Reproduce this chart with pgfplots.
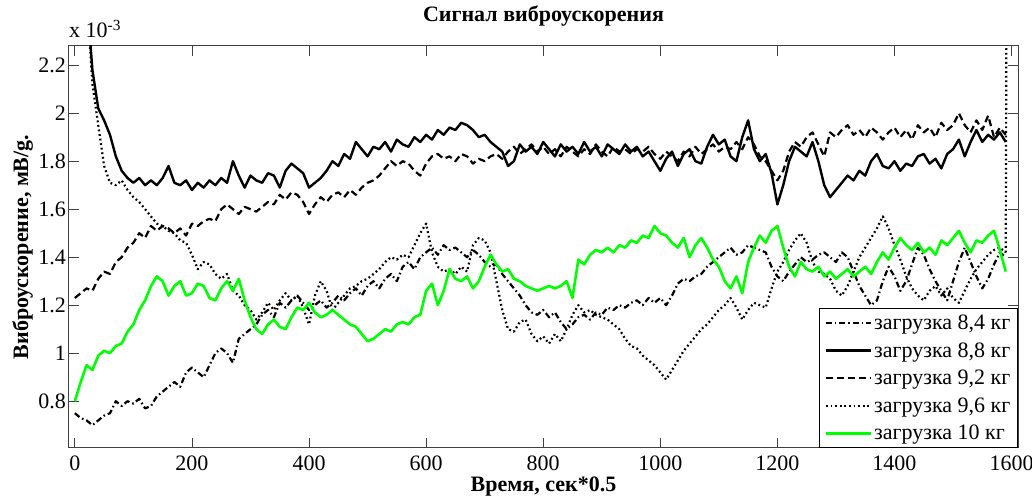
\documentclass[border=0pt]{standalone}
\usepackage{fontspec}
\setmainfont{Liberation Serif}
\usepackage{pgfplots}
\pgfplotsset{compat=1.18}
\usepackage{pgfplotstable}
\pgfplotstableread{
x a b c d e
0 0.75 3.00 1.23 3.00 0.80
10 0.73 2.80 1.25 2.80 0.88
20 0.72 2.50 1.27 2.50 0.95
30 0.70 2.18 1.26 2.12 0.93
40 0.72 2.02 1.31 1.95 0.99
50 0.74 1.97 1.34 1.78 1.01
60 0.75 1.91 1.33 1.71 1.00
70 0.80 1.82 1.38 1.70 1.03
80 0.78 1.76 1.40 1.72 1.04
90 0.80 1.73 1.44 1.68 1.09
100 0.79 1.71 1.46 1.65 1.12
110 0.81 1.73 1.50 1.63 1.18
120 0.77 1.70 1.48 1.60 1.22
130 0.78 1.72 1.53 1.57 1.28
140 0.82 1.70 1.51 1.54 1.32
150 0.84 1.73 1.53 1.53 1.30
160 0.86 1.78 1.52 1.51 1.24
170 0.88 1.71 1.50 1.50 1.28
180 0.86 1.70 1.52 1.47 1.30
190 0.92 1.72 1.49 1.46 1.24
200 0.94 1.68 1.54 1.41 1.25
210 0.92 1.71 1.53 1.35 1.29
220 0.90 1.69 1.55 1.38 1.28
230 0.95 1.72 1.56 1.37 1.23
240 1.00 1.70 1.55 1.33 1.22
250 1.02 1.73 1.60 1.31 1.27
260 1.00 1.71 1.62 1.33 1.30
270 0.96 1.80 1.60 1.26 1.26
280 1.06 1.74 1.58 1.24 1.31
290 1.08 1.69 1.61 1.20 1.22
300 1.10 1.74 1.60 1.18 1.15
310 1.12 1.72 1.59 1.14 1.10
320 1.16 1.71 1.61 1.17 1.08
330 1.18 1.75 1.63 1.21 1.12
340 1.15 1.74 1.62 1.18 1.14
350 1.21 1.69 1.66 1.22 1.11
360 1.19 1.76 1.64 1.25 1.10
370 1.22 1.79 1.67 1.22 1.15
380 1.24 1.77 1.66 1.24 1.19
390 1.21 1.75 1.63 1.19 1.18
400 1.18 1.69 1.58 1.12 1.21
410 1.20 1.71 1.62 1.24 1.17
420 1.22 1.73 1.65 1.30 1.15
430 1.19 1.76 1.63 1.26 1.16
440 1.21 1.80 1.66 1.18 1.18
450 1.24 1.78 1.67 1.21 1.16
460 1.22 1.83 1.65 1.24 1.14
470 1.25 1.81 1.68 1.27 1.12
480 1.27 1.88 1.66 1.28 1.11
490 1.24 1.85 1.69 1.30 1.08
500 1.28 1.82 1.71 1.31 1.05
510 1.30 1.86 1.72 1.33 1.06
520 1.27 1.85 1.74 1.35 1.08
530 1.31 1.88 1.77 1.38 1.10
540 1.33 1.84 1.80 1.40 1.09
550 1.30 1.89 1.78 1.39 1.12
560 1.36 1.87 1.80 1.41 1.13
570 1.38 1.86 1.79 1.40 1.12
580 1.35 1.90 1.76 1.45 1.15
590 1.40 1.88 1.74 1.50 1.16
600 1.42 1.91 1.79 1.54 1.26
610 1.44 1.89 1.82 1.42 1.29
620 1.41 1.93 1.83 1.36 1.20
630 1.45 1.91 1.81 1.34 1.26
640 1.43 1.94 1.82 1.35 1.35
650 1.44 1.93 1.80 1.33 1.31
660 1.42 1.96 1.83 1.36 1.30
670 1.40 1.95 1.82 1.34 1.32
680 1.43 1.93 1.79 1.45 1.27
690 1.41 1.90 1.81 1.48 1.30
700 1.38 1.91 1.80 1.47 1.36
710 1.36 1.88 1.82 1.42 1.41
720 1.37 1.86 1.83 1.30 1.37
730 1.33 1.84 1.81 1.18 1.34
740 1.30 1.78 1.84 1.10 1.35
750 1.27 1.80 1.86 1.09 1.31
760 1.24 1.87 1.83 1.13 1.30
770 1.20 1.84 1.85 1.14 1.28
780 1.17 1.86 1.87 1.08 1.27
790 1.16 1.83 1.84 1.05 1.26
800 1.18 1.88 1.86 1.07 1.27
810 1.15 1.85 1.83 1.04 1.28
820 1.17 1.82 1.85 1.08 1.27
830 1.13 1.87 1.82 1.05 1.28
840 1.10 1.84 1.86 1.10 1.30
850 1.12 1.86 1.84 1.16 1.23
860 1.15 1.83 1.82 1.20 1.39
870 1.16 1.88 1.85 1.17 1.37
880 1.14 1.84 1.83 1.18 1.41
890 1.17 1.86 1.87 1.16 1.43
900 1.16 1.82 1.84 1.15 1.42
910 1.19 1.87 1.82 1.14 1.44
920 1.18 1.85 1.86 1.12 1.42
930 1.20 1.83 1.84 1.10 1.45
940 1.19 1.87 1.85 1.06 1.44
950 1.21 1.84 1.83 1.03 1.47
960 1.22 1.86 1.85 1.02 1.46
970 1.20 1.82 1.84 0.99 1.49
980 1.23 1.84 1.86 0.97 1.48
990 1.21 1.80 1.83 0.95 1.53
1000 1.23 1.76 1.81 0.92 1.50
1010 1.20 1.81 1.84 0.89 1.49
1020 1.24 1.84 1.82 0.93 1.46
1030 1.29 1.78 1.80 0.97 1.44
1040 1.31 1.83 1.84 1.01 1.48
1050 1.30 1.85 1.82 1.04 1.40
1060 1.32 1.80 1.86 1.07 1.45
1070 1.33 1.79 1.83 1.10 1.48
1080 1.36 1.86 1.85 1.12 1.44
1090 1.38 1.91 1.87 1.15 1.39
1100 1.40 1.87 1.84 1.18 1.36
1110 1.42 1.89 1.86 1.20 1.30
1120 1.44 1.82 1.85 1.23 1.27
1130 1.41 1.80 1.88 1.19 1.32
1140 1.42 1.90 1.85 1.14 1.25
1150 1.45 1.97 1.90 1.18 1.38
1160 1.44 1.85 1.87 1.21 1.44
1170 1.43 1.80 1.82 1.20 1.49
1180 1.42 1.83 1.80 1.19 1.46
1190 1.36 1.75 1.76 1.27 1.51
1200 1.32 1.62 1.72 1.34 1.53
1210 1.30 1.70 1.76 1.38 1.44
1220 1.34 1.80 1.84 1.43 1.36
1230 1.37 1.86 1.88 1.47 1.32
1240 1.40 1.84 1.86 1.50 1.38
1250 1.38 1.82 1.90 1.46 1.35
1260 1.39 1.88 1.92 1.38 1.34
1270 1.41 1.80 1.87 1.34 1.36
1280 1.42 1.70 1.82 1.33 1.32
1290 1.40 1.65 1.92 1.31 1.34
1300 1.38 1.68 1.90 1.26 1.31
1310 1.42 1.71 1.93 1.24 1.33
1320 1.40 1.74 1.95 1.28 1.35
1330 1.34 1.72 1.91 1.34 1.32
1340 1.28 1.76 1.93 1.40 1.34
1350 1.24 1.74 1.90 1.44 1.36
1360 1.20 1.80 1.94 1.48 1.33
1370 1.22 1.83 1.92 1.52 1.38
1380 1.30 1.78 1.89 1.57 1.42
1390 1.36 1.77 1.92 1.52 1.39
1400 1.32 1.80 1.94 1.45 1.44
1410 1.26 1.76 1.90 1.39 1.48
1420 1.30 1.79 1.93 1.32 1.45
1430 1.37 1.78 1.89 1.27 1.43
1440 1.44 1.82 1.95 1.24 1.46
1450 1.41 1.83 1.92 1.22 1.42
1460 1.35 1.79 1.94 1.26 1.44
1470 1.30 1.81 1.90 1.28 1.41
1480 1.26 1.77 1.96 1.24 1.47
1490 1.22 1.83 1.93 1.27 1.45
1500 1.30 1.85 1.95 1.23 1.48
1510 1.38 1.89 2.00 1.21 1.51
1520 1.44 1.82 1.95 1.26 1.46
1530 1.38 1.88 1.92 1.31 1.42
1540 1.32 1.93 1.97 1.35 1.47
1550 1.27 1.88 1.93 1.38 1.46
1560 1.31 1.91 1.99 1.41 1.49
1570 1.37 1.89 1.90 1.43 1.51
1580 1.42 1.92 1.94 1.44 1.43
1590 1.40 1.88 1.91 1.42 1.34
}\data
\definecolor{lgreen}{rgb}{0,1,0}
\begin{document}
\begin{tikzpicture}
\useasboundingbox (-69pt,-49pt) rectangle (963pt,448pt);
\begin{axis}[
  at={(0,0)}, anchor=south west,
  scale only axis, width=949pt, height=402pt,
  xmin=-10, xmax=1611, ymin=0.605, ymax=2.28,
  xtick={0,200,400,600,800,1000,1200,1400,1600},
  ytick={0.8,1,1.2,1.4,1.6,1.8,2,2.2},
  yticklabels={0.8,1,1.2,1.4,1.6,1.8,2,2.2},
  tick align=inside, major tick length=10pt,
  tick style={black!75, line width=0.8pt},
  axis line style={black!75, line width=1pt},
  scaled ticks=false,
  /pgf/number format/1000 sep={},
  /pgf/number format/assume math mode=true,
  ticklabel style={font=\fontsize{22}{24}\selectfont},
  yticklabel style={inner sep=3pt},
  xticklabel style={anchor=base, yshift=-23pt},
  title={Сигнал виброускорения},
  title style={at={(rel axis cs:0.5,1)}, anchor=base, yshift=18pt, font=\bfseries\fontsize{22}{24}\selectfont},
  xlabel={Время, сек*0.5},
  xlabel style={at={(rel axis cs:0.5,0)}, anchor=base, yshift=-43pt, font=\bfseries\fontsize{22}{24}\selectfont},
  ylabel={Виброускорение, мВ/g.},
  ylabel style={at={(rel axis cs:-0.0432,0.5)}, anchor=base, font=\bfseries\fontsize{22}{24}\selectfont},
  legend style={at={(rel axis cs:1,0)}, anchor=south east, draw=black, line width=1.2pt, fill=white,
    font=\fontsize{22}{24}\selectfont, inner xsep=5pt, inner ysep=4pt, row sep=7.5pt},
  legend cell align=left,
  legend image code/.code={\draw[#1] (0pt,0pt) -- (45pt,0pt);},
  every axis plot/.append style={line join=round},
]
\addplot[black, line width=2.2pt, dash pattern=on 6pt off 3pt on 1.5pt off 3pt] table[x=x,y=a]{\data};
\addlegendentry{загрузка 8,4 кг}
\addplot[black, line width=2.4pt] table[x=x,y=b]{\data};
\addlegendentry{загрузка 8,8 кг}
\addplot[black, line width=2.2pt, dash pattern=on 7pt off 4pt] table[x=x,y=c]{\data};
\addlegendentry{загрузка 9,2 кг}
\addplot[black, line width=2.2pt, dash pattern=on 1.8pt off 2.8pt] table[x=x,y=d]{\data};
\addlegendentry{загрузка 9,6 кг}
\addplot[lgreen, line width=2.6pt] table[x=x,y=e]{\data};
\addlegendentry{загрузка 10 кг}
\addplot[black, line width=2.2pt, dash pattern=on 1.8pt off 2.8pt, forget plot] coordinates {(1590,1.42) (1592,3.0)};
\end{axis}
\node[anchor=base west, font=\fontsize{22}{24}\selectfont, inner sep=0pt] at (0pt,410pt) {x 10\textsuperscript{-3}};
\end{tikzpicture}
\end{document}
